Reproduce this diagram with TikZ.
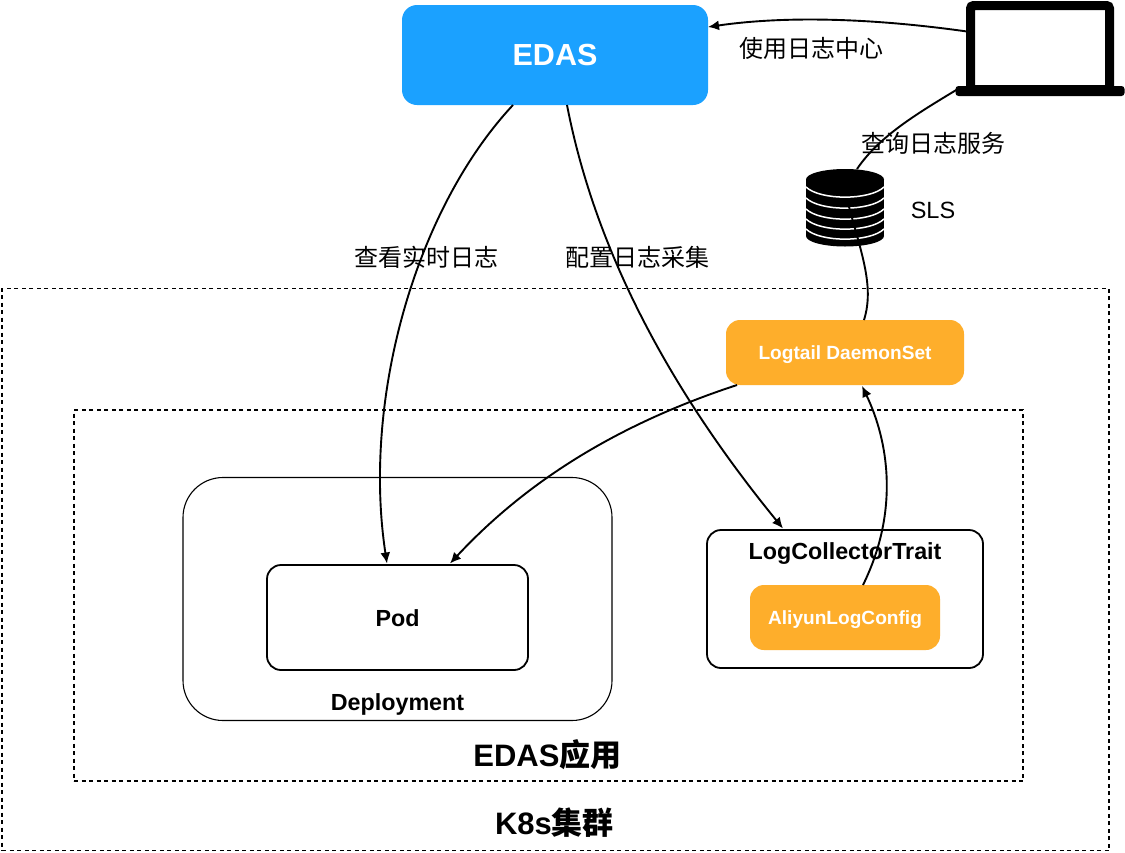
\documentclass[tikz,border=0pt]{standalone}
\usepackage{fontspec}
\setmainfont{Liberation Sans}
\newfontfamily\cjk{Noto Sans CJK SC}
\newfontfamily\cjkb{Noto Sans CJK SC Bold}
\usetikzlibrary{calc,arrows.meta}
\definecolor{edasblue}{HTML}{1BA1FF}
\definecolor{logorange}{HTML}{FEAE2B}
\tikzset{
  x=1pt,y=-1pt,
  every node/.style={outer sep=0pt},
  conn/.style={line width=1.9pt,black},
  arr/.style={conn,-{Latex[length=11pt,width=10pt]}},
  zone/.style={draw,line width=1.6pt,dash pattern=on 4pt off 3.5pt,inner sep=0},
  boxw/.style={draw,line width=1.8pt,rounded corners=14pt,fill=white},
  orange/.style={fill=logorange,rounded corners=14pt},
  otext/.style={text=white,inner sep=0,font=\bfseries\fontsize{19.1}{22}\selectfont},
  lab/.style={font=\cjk\fontsize{24}{28}\selectfont,inner sep=0},
  blab/.style={font=\bfseries\fontsize{23.3}{26}\selectfont,inner sep=0},
  zlab/.style={font=\bfseries\fontsize{31}{34}\selectfont,inner sep=0},
}
\begin{document}
\begin{tikzpicture}
\useasboundingbox (0,0) rectangle (1125,852);
\fill[white] (0,0) rectangle (1125,852);
% zones
\node[zone,anchor=north west,minimum width=1107pt,minimum height=562pt] (k8s) at (2,288.5) {};
\node[zone,anchor=north west,minimum width=949pt,minimum height=371pt] (app) at (74,410) {};
% boxes
\node[draw,line width=1.1pt,rounded corners=40pt,anchor=north west,minimum width=429pt,minimum height=243pt] (deploy) at (183,477.5) {};
\node[boxw,anchor=north west,minimum width=261pt,minimum height=105pt] (pod) at (267,565) {};
\node[blab] (podt) at ($(pod.center)+(0,1)$) {Pod};
\node[boxw,anchor=north west,minimum width=276pt,minimum height=138pt] (lct) at (707,530) {};
\node[orange,anchor=north west,minimum width=190pt,minimum height=65pt] (alc) at (750,585) {};
\node[otext] (alct) at ($(alc.center)+(0,2)$) {AliyunLogConfig};
\node[orange,anchor=north west,minimum width=238pt,minimum height=65pt] (dset) at (726,320) {};
\node[otext] (dsett) at ($(dset.center)+(0,2)$) {Logtail DaemonSet};
\node[fill=edasblue,rounded corners=15pt,anchor=north west,minimum width=306pt,minimum height=100pt] (edas) at (402,5) {};
\node[text=white,inner sep=0,font=\bfseries\fontsize{30.5}{34}\selectfont] (edast) at ($(edas.center)+(0,-0.5)$) {EDAS};
% laptop
\node[draw,line width=9pt,rounded corners=3pt,anchor=north west,minimum width=139pt,minimum height=84pt,fill=white] (laptop) at (970.5,5.5) {};
\node[fill=black,rounded corners=3pt,anchor=north west,minimum width=169pt,minimum height=10pt,inner sep=0] (base) at (955.5,86) {};
% database
\node[fill=black,anchor=north west,minimum width=78pt,minimum height=57pt,inner sep=0] (db) at (806,179) {};
\fill[black] (845,179.5) ellipse [x radius=39,y radius=10.5];
\fill[black] (845,236) ellipse [x radius=39,y radius=10.5];
\foreach \yy in {187,198,209,219,229}
  \draw[white,line width=1.5pt] (806,\yy) .. controls (820,\yy+13.5) and (870,\yy+13.5) .. (884,\yy);
% connectors
\draw[arr] ($(edas.south west)+(111,0)$) .. controls (415,210) and (362,400) .. ($(pod.north west)+(120,-1.5)$);
\draw[arr] ($(edas.south west)+(165,0)$) .. controls (597,260) and (678,400) .. ($(lct.north west)+(76,-1.5)$);
\draw[arr] ($(dset.south west)+(11,0)$) .. controls (615,425) and (525,483) .. ($(pod.north east)+(-78,-1.5)$);
\draw[arr] ($(alc.north west)+(113,0)$) .. controls (900,510) and (888,440) .. ($(dset.south west)+(136,1)$);
\draw[arr] (laptop.west |- 0,32) .. controls (880,19) and (790,15) .. (edas.east |- 0,27);
\draw[conn] ($(base.north west)+(4,2)$) .. controls (920,112) and (880,135) .. ($(db.north west)+(51,-10)$);
\draw[conn] ($(dset.north west)+(138,0)$) .. controls (875,285) and (860,250) .. ($(db.north west)+(41,20)$);
% labels
\node[blab,anchor=center] (lctt) at ($(lct.north)+(0,24)$) {LogCollectorTrait};
\node[blab] (dept) at ($(deploy.south)+(0,-16.5)$) {Deployment};
\node[zlab,anchor=center] (appt) at (547.5,755) {EDAS{\cjkb 应用}};
\node[zlab,anchor=center] (k8st) at (554.5,823) {K8s{\cjkb 集群}};
\node[lab] (l1) at (811,48) {使用日志中心};
\node[lab] (l2) at (933,143) {查询日志服务};
\node[lab] (l3) at (426,257) {查看实时日志};
\node[lab] (l4) at (637,257) {配置日志采集};
\node[font=\fontsize{23.5}{26}\selectfont,inner sep=0] (sls) at (933,210) {SLS};
\end{tikzpicture}
\end{document}
